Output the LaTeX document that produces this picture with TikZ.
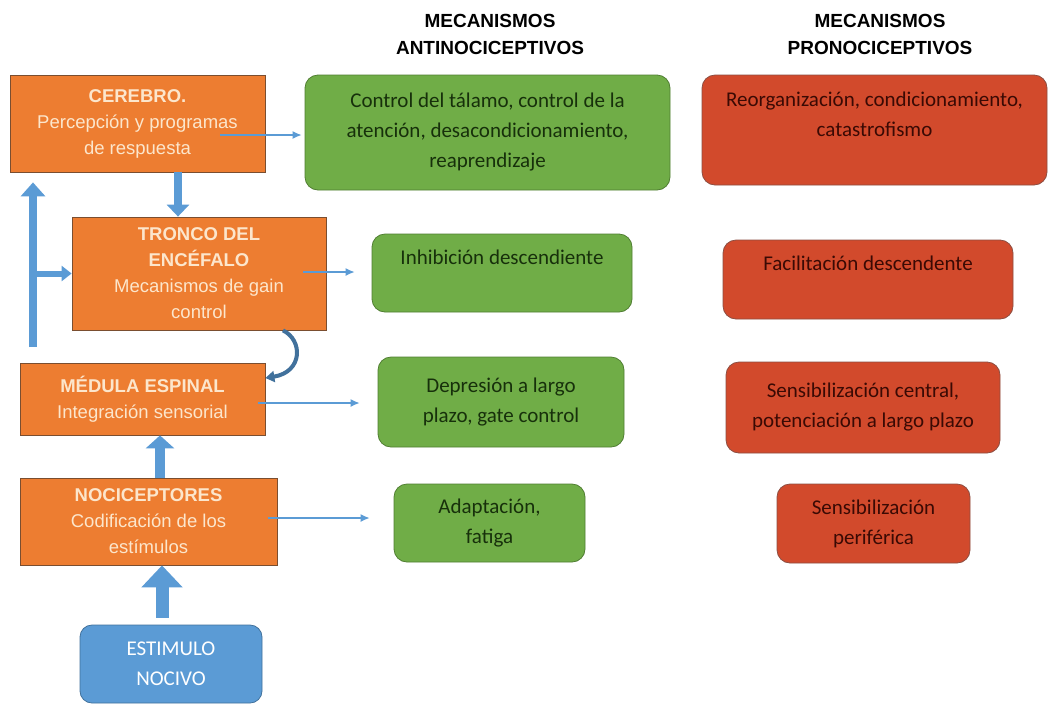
\documentclass[tikz,border=0pt]{standalone}
\usepackage{fontspec}
\setmainfont{Liberation Sans}
\newfontfamily\carl{Carlito}
\newfontfamily\arl{Liberation Sans}
\usetikzlibrary{arrows.meta}
\definecolor{orF}{HTML}{ED7D31}
\definecolor{orB}{HTML}{7A4E30}
\definecolor{orT}{HTML}{FCE6CC}
\definecolor{grF}{HTML}{70AD47}
\definecolor{grB}{HTML}{507E32}
\definecolor{grT}{HTML}{17300B}
\definecolor{rdF}{HTML}{D24A2C}
\definecolor{rdB}{HTML}{8C4E42}
\definecolor{rdT}{HTML}{3A0A04}
\definecolor{blF}{HTML}{5B9BD5}
\definecolor{blB}{HTML}{41719C}
\begin{document}
\begin{tikzpicture}[x=1pt,y=-1pt,
  obox/.style={draw=orB, line width=0.8pt, fill=orF, text=orT, align=center, inner sep=0pt,
    font=\arl\fontsize{18.5}{26}\selectfont},
  gbox/.style={draw=grB, line width=0.8pt, fill=grF, text=grT, align=center, inner sep=0pt,
    rounded corners=13pt, font=\carl\fontsize{21}{30}\selectfont},
  rbox/.style={draw=rdB, line width=0.8pt, fill=rdF, text=rdT, align=center, inner sep=0pt,
    rounded corners=13pt, font=\carl\fontsize{21}{30}\selectfont},
  bbox/.style={draw=blB, line width=0.8pt, fill=blF, text=white, align=center, inner sep=0pt,
    rounded corners=12pt, font=\carl\fontsize{21}{30}\selectfont},
  head/.style={align=center, inner sep=0pt, text=black, font=\arl\bfseries\fontsize{19}{27}\selectfont},
  thin/.style={draw=blF, line width=1.3pt, -{Latex[length=9pt,width=8pt]}},
  blk/.style={draw=blF},
]
\useasboundingbox (0,0) rectangle (1049,705);
\fill[white] (0,0) rectangle (1049,705);

% headers
\node[head] (h1) at (490,34) {MECANISMOS\\ANTINOCICEPTIVOS};
\node[head] (h2) at (880,34) {MECANISMOS\\PRONOCICEPTIVOS};

% left column
\node[obox, minimum width=255pt, minimum height=97pt] (cer) at (137.5,123.5)
  {\textbf{CEREBRO.}\\Percepción y programas\\de respuesta};
\node[obox, minimum width=254pt, minimum height=113pt] (tro) at (199,273.5)
  {\textbf{TRONCO DEL}\\\textbf{ENCÉFALO}\\Mecanismos de gain\\control};
\node[obox, minimum width=245pt, minimum height=72pt] (med) at (142.5,399)
  {\textbf{MÉDULA ESPINAL}\\Integración sensorial};
\node[obox, minimum width=257pt, minimum height=87pt] (noc) at (148.5,521.5)
  {\textbf{NOCICEPTORES}\\Codificación de los\\estímulos};
\node[bbox, minimum width=182pt, minimum height=78pt] (est) at (171,664)
  {ESTIMULO\\NOCIVO};

% green column
\node[gbox, minimum width=365pt, minimum height=115pt] (g1) at (487.5,132.5)
  {Control del tálamo, control de la\\atención, desacondicionamiento,\\reaprendizaje};
\node[gbox, minimum width=260pt, minimum height=78pt] (g2) at (502,273)
  {\strut Inhibición descendiente\\\strut};
\node[gbox, minimum width=246pt, minimum height=90pt] (g3) at (501,402)
  {Depresión a largo\\plazo, gate control};
\node[gbox, minimum width=191pt, minimum height=78pt] (g4) at (489.5,523)
  {Adaptación,\\fatiga};

% red column
\node[rbox, minimum width=345pt, minimum height=110pt] (r1) at (874.5,130)
  {\strut Reorganización, condicionamiento,\\\strut catastrofismo\\\strut};
\node[rbox, minimum width=290pt, minimum height=79pt] (r2) at (868,279.5)
  {\strut Facilitación descendente\\\strut};
\node[rbox, minimum width=274pt, minimum height=91pt] (r3) at (863,407.5)
  {Sensibilización central,\\potenciación a largo plazo};
\node[rbox, minimum width=193pt, minimum height=79pt] (r4) at (873.5,523.5)
  {Sensibilización\\periférica};

% helper coordinates
\coordinate (x1) at (178,0);
\coordinate (lb) at (33,347);
\coordinate (x2) at (160,0);
\coordinate (x3) at (162,0);
\coordinate (c1) at (220,135);
\coordinate (c2) at (303,272);
\coordinate (c3) at (258,403);
\coordinate (c4) at (268,518);
\coordinate (cv1) at (283,0);
\coordinate (cv2) at (0,378);

% block arrows
\draw[blk, line width=8pt, -{Triangle[width=22pt,length=12pt]}] (cer.south -| x1) -- (tro.north -| x1);
\draw[blk, line width=8pt, -{Triangle[width=24pt,length=14pt]}] (lb) -- ([yshift=-10pt]cer.south -| lb);
\draw[blk, line width=6pt, -{Triangle[width=15pt,length=10pt]}] (lb |- tro.west) -- (tro.west);
\draw[blk, line width=10pt, -{Triangle[width=28pt,length=13pt]}] (noc.north -| x2) -- (med.south -| x2);
\draw[blk, line width=13pt, -{Triangle[width=40pt,length=22pt]}] ([yshift=7pt]est.north -| x3) -- (noc.south -| x3);

% curved arrow
\draw[draw=blB, line width=4pt, -{Triangle[width=11pt,length=9pt]}]
  (tro.south -| cv1) .. controls (303,340) and (303,372) .. (med.east |- cv2);

% thin arrows
\draw[thin, shorten >=3pt] (c1) -- (g1.west |- c1);
\draw[thin, shorten >=17pt] (c2) -- (g2.west |- c2);
\draw[thin, shorten >=18pt] (c3) -- (g3.west |- c3);
\draw[thin, shorten >=24pt] (c4) -- (g4.west |- c4);
\end{tikzpicture}
\end{document}
